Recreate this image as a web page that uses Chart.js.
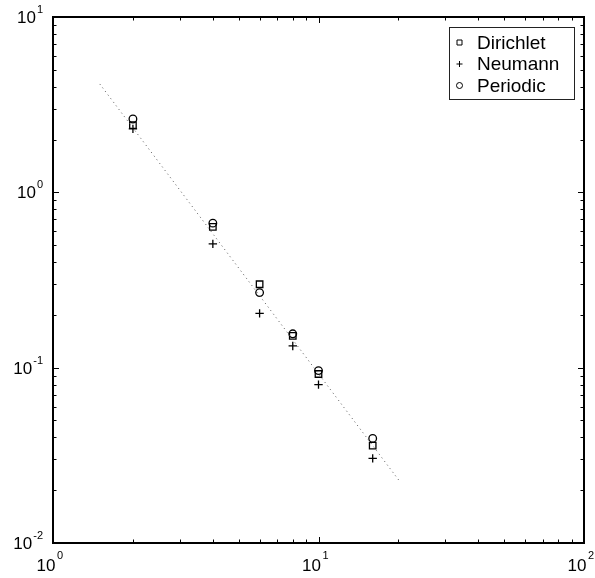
<!DOCTYPE html>
<html>
<head>
<meta charset="utf-8">
<script src="https://cdn.jsdelivr.net/npm/chart.js"></script>
<style>
  html, body { margin: 0; padding: 0; background: #fff; }
  #wrap { width: 595px; height: 578px; }
</style>
</head>
<body>
<div id="wrap"><canvas id="chart"></canvas></div>
<script>
// values
const gridN = [2, 4, 6, 8, 10, 16];
const dirichlet = [2.42, 0.635, 0.299, 0.152, 0.092, 0.0359];
const neumann = [2.30, 0.508, 0.204, 0.133, 0.080, 0.0304];
const periodic = [2.62, 0.667, 0.268, 0.156, 0.0962, 0.0395];

// dotted reference line (slope -2)
const refX = [1.5, 20.3];
const refY = [4.15, 0.0223];

// decade exponents for the tick labels
const xTickExp = [0, 1, 2];
const yTickExp = [-2, -1, 0, 1];

const FONT = "'Liberation Sans', Arial, Helvetica, sans-serif";

function pts(xs, ys) {
    return xs.map((x, i) => ({ x: x, y: ys[i] }));
}

function marker(label, ys, style, radius) {
    return {
        label: label,
        data: pts(gridN, ys),
        pointStyle: style,
        pointRadius: radius,
        pointHoverRadius: radius,
        pointBorderColor: '#000',
        pointBackgroundColor: 'rgba(0,0,0,0)',
        pointBorderWidth: 1.3,
        showLine: false
    };
}

// minor + major log ticks between 10^a and 10^b
function logValues(a, b) {
    const out = [];
    for (let d = a; d < b; d++) {
        for (let k = 1; k < 10; k++) out.push({ v: k * Math.pow(10, d), major: k === 1 });
    }
    out.push({ v: Math.pow(10, b), major: true });
    return out;
}

// matlab-like box, inward ticks, 10^n labels, framed legend
const matlabAxes = {
    id: 'matlabAxes',
    afterDraw(chart) {
        const ctx = chart.ctx;
        const a = chart.chartArea;
        const xs = chart.scales.x, ys = chart.scales.y;
        ctx.save();
        ctx.strokeStyle = '#000';

        // ticks
        ctx.lineWidth = 1;
        ctx.beginPath();
        logValues(xTickExp[0], xTickExp[xTickExp.length - 1]).forEach(t => {
            const px = Math.round(xs.getPixelForValue(t.v)) + 0.5;
            const len = t.major ? 6 : 3.5;
            ctx.moveTo(px, a.bottom); ctx.lineTo(px, a.bottom - len);
            ctx.moveTo(px, a.top); ctx.lineTo(px, a.top + len);
        });
        logValues(yTickExp[0], yTickExp[yTickExp.length - 1]).forEach(t => {
            const py = Math.round(ys.getPixelForValue(t.v)) + 0.5;
            const len = t.major ? 6 : 3.5;
            ctx.moveTo(a.left, py); ctx.lineTo(a.left + len, py);
            ctx.moveTo(a.right, py); ctx.lineTo(a.right - len, py);
        });
        ctx.stroke();

        // box
        ctx.lineWidth = 2;
        ctx.strokeRect(a.left, a.top, a.right - a.left, a.bottom - a.top);

        // tick labels
        ctx.fillStyle = '#000';
        ctx.textBaseline = 'alphabetic';
        xTickExp.forEach(e => {
            const px = xs.getPixelForValue(Math.pow(10, e));
            ctx.font = '17px ' + FONT;
            ctx.textAlign = 'right';
            ctx.fillText('10', px + 2.5, a.bottom + 28);
            ctx.font = '11px ' + FONT;
            ctx.textAlign = 'left';
            ctx.fillText(String(e), px + 4, a.bottom + 16);
        });
        yTickExp.forEach(e => {
            const py = ys.getPixelForValue(Math.pow(10, e));
            const right = a.left - 10;
            ctx.font = '11px ' + FONT;
            const exp = String(e);
            const ew = ctx.measureText(exp).width;
            ctx.textAlign = 'right';
            ctx.fillText(exp, right, py - 4);
            ctx.font = '17px ' + FONT;
            ctx.fillText('10', right - ew - 1, py + 6);
        });

        // legend
        const lx = 449, ly = 27, lw = 125, lh = 72;
        ctx.fillStyle = '#fff';
        ctx.fillRect(lx, ly, lw, lh);
        ctx.lineWidth = 1;
        ctx.strokeStyle = '#222';
        ctx.strokeRect(lx + 0.5, ly + 0.5, lw, lh);
        const sets = chart.data.datasets.filter(d => d.label);
        sets.forEach((ds, i) => {
            const cy = ly + 15.5 + i * 21.5;
            const cx = lx + 10.5;
            ctx.strokeStyle = '#000';
            ctx.lineWidth = 1;
            ctx.beginPath();
            if (ds.pointStyle === 'rect') {
                ctx.rect(cx - 2.5, cy - 2.5, 5, 5);
            } else if (ds.pointStyle === 'cross') {
                ctx.moveTo(cx - 3, cy); ctx.lineTo(cx + 3, cy);
                ctx.moveTo(cx, cy - 3); ctx.lineTo(cx, cy + 3);
            } else {
                ctx.arc(cx, cy, 3, 0, Math.PI * 2);
            }
            ctx.stroke();
            ctx.fillStyle = '#000';
            ctx.font = '19px ' + FONT;
            ctx.textAlign = 'left';
            ctx.textBaseline = 'middle';
            ctx.fillText(ds.label, lx + 28, cy + 1);
        });
        ctx.restore();
    }
};

new Chart(document.getElementById('chart'), {
    type: 'scatter',
    data: {
        datasets: [
            {
                data: pts(refX, refY),
                showLine: true,
                borderColor: '#555',
                borderWidth: 1,
                borderDash: [1, 3.5],
                pointRadius: 0,
                pointHoverRadius: 0
            },
            marker('Dirichlet', dirichlet, 'rect', 4.6),
            marker('Neumann', neumann, 'cross', 4.2),
            marker('Periodic', periodic, 'circle', 3.8)
        ]
    },
    options: {
        responsive: true,
        maintainAspectRatio: false,
        animation: false,
        layout: { padding: { left: 53, top: 17, right: 11, bottom: 35 } },
        plugins: {
            legend: { display: false },
            tooltip: { enabled: false }
        },
        scales: {
            x: {
                type: 'logarithmic',
                display: false,
                min: Math.pow(10, xTickExp[0]),
                max: Math.pow(10, xTickExp[xTickExp.length - 1])
            },
            y: {
                type: 'logarithmic',
                display: false,
                min: Math.pow(10, yTickExp[0]),
                max: Math.pow(10, yTickExp[yTickExp.length - 1])
            }
        }
    },
    plugins: [matlabAxes]
});
</script>
</body>
</html>
